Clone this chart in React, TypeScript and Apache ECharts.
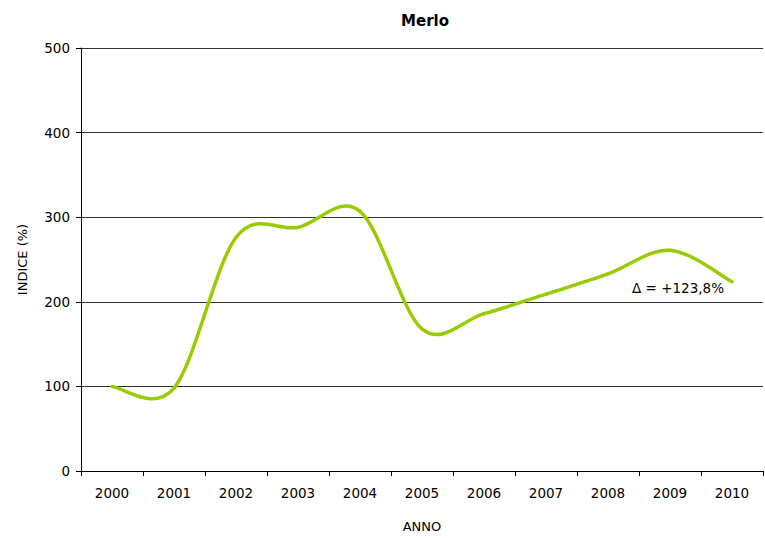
import React, { useEffect, useRef } from "react";
import * as echarts from "echarts";

const years = ["2000", "2001", "2002", "2003", "2004", "2005", "2006", "2007", "2008", "2009", "2010"];
const indexValues = [100, 98, 276, 288, 307, 168, 186, 209, 233, 261, 223.8];
const yTicks = { min: 0, max: 500, interval: 100 };
const deltaLabel = "Δ = +123,8%";

const FONT = "DejaVu Sans, Verdana, sans-serif";
const LINE_COLOR = "#99cc00";

// Cardinal-spline segment between point i and i+1, computed in pixel space.
function renderSegment(params: any, api: any) {
  const i = params.dataIndex;
  const n = indexValues.length;
  if (i >= n - 1) return { type: "group", children: [] };
  const clampIdx = (k: number) => Math.max(0, Math.min(n - 1, k));
  const pt = (k: number) => api.coord([clampIdx(k), indexValues[clampIdx(k)]]);
  const p0 = pt(i - 1);
  const p1 = pt(i);
  const p2 = pt(i + 1);
  const p3 = pt(i + 2);
  return {
    type: "bezierCurve",
    shape: {
      x1: p1[0],
      y1: p1[1],
      cpx1: p1[0] + (p2[0] - p0[0]) / 6,
      cpy1: p1[1] + (p2[1] - p0[1]) / 6,
      cpx2: p2[0] - (p3[0] - p1[0]) / 6,
      cpy2: p2[1] - (p3[1] - p1[1]) / 6,
      x2: p2[0],
      y2: p2[1],
    },
    style: { stroke: LINE_COLOR, lineWidth: 3.5, fill: null, lineCap: "round" },
  };
}

export default function App() {
  const ref = useRef<HTMLDivElement>(null);

  useEffect(() => {
    if (!ref.current) return;
    const chart = echarts.init(ref.current, null, { renderer: "svg" });
    chart.setOption({
      animation: false,
      backgroundColor: "#ffffff",
      title: {
        text: "Merlo",
        left: 420,
        textAlign: "center",
        top: 8,
        textStyle: { fontFamily: FONT, fontSize: 15, fontWeight: "bold", color: "#000" },
      },
      grid: { left: 81, right: 2, top: 48, bottom: 65, containLabel: false },
      xAxis: {
        type: "category",
        data: years,
        boundaryGap: true,
        name: "ANNO",
        nameLocation: "middle",
        nameGap: 49,
        nameTextStyle: { fontFamily: FONT, fontSize: 13, color: "#000" },
        axisLine: { lineStyle: { color: "#000", width: 1 } },
        axisTick: { show: true, length: 5, lineStyle: { color: "#000" } },
        axisLabel: { fontFamily: FONT, fontSize: 13.5, color: "#000", margin: 15 },
        splitLine: { show: false },
      },
      yAxis: {
        type: "value",
        min: yTicks.min,
        max: yTicks.max,
        interval: yTicks.interval,
        name: "INDICE (%)",
        nameLocation: "middle",
        nameGap: 52,
        nameRotate: 90,
        nameTextStyle: { fontFamily: FONT, fontSize: 13, color: "#000" },
        axisLine: { show: true, lineStyle: { color: "#000", width: 1 } },
        axisTick: { show: true, length: 5, lineStyle: { color: "#000" } },
        axisLabel: { fontFamily: FONT, fontSize: 13.5, color: "#000", margin: 11 },
        splitLine: { show: true, lineStyle: { color: "#333", width: 1 } },
      },
      series: [
        {
          type: "custom",
          data: indexValues.map((v, i) => [i, v]),
          encode: { x: 0, y: 1 },
          renderItem: renderSegment,
          clip: false,
          z: 3,
        },
        {
          type: "line",
          data: indexValues,
          symbol: "none",
          lineStyle: { opacity: 0 },
          silent: true,
          markPoint: {
            symbol: "circle",
            symbolSize: 0,
            data: [{ coord: [years.length - 1, indexValues[indexValues.length - 1]] }],
            label: {
              show: true,
              formatter: deltaLabel,
              position: "left",
              offset: [-3, 6],
              fontFamily: FONT,
              fontSize: 13.5,
              color: "#000",
            },
          },
        },
      ],
    });
    return () => chart.dispose();
  }, []);

  return (
    <div
      ref={ref}
      style={{ position: "fixed", left: 0, top: 0, width: 765, height: 538 }}
    />
  );
}
